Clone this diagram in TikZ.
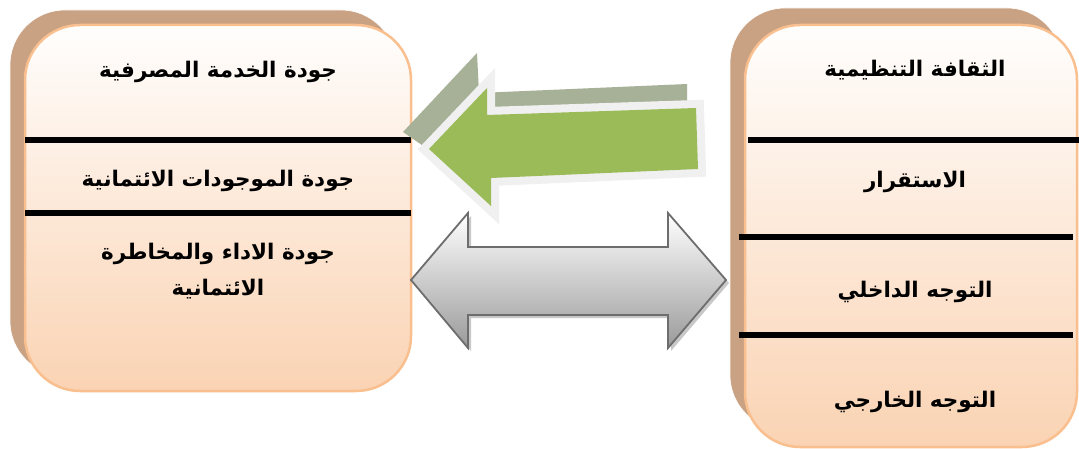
\documentclass[tikz,border=0pt]{standalone}
\usepackage{fontspec}
\newfontfamily\arabicfont[Script=Arabic]{DejaVu Sans}
\TeXXeTstate=1
\definecolor{boxtop}{HTML}{FFFEFD}
\definecolor{boxbot}{HTML}{FAD3B3}
\definecolor{boxedge}{HTML}{F9BF8F}
\definecolor{shadowtan}{HTML}{C9A183}
\definecolor{arrowgreen}{HTML}{9BBB59}
\definecolor{greenshadow}{HTML}{A6B197}
\definecolor{glow}{HTML}{F0F0F0}
\definecolor{grayedge}{HTML}{6D6D6D}
\definecolor{graybot}{HTML}{9A9A9A}
\definecolor{grayshadow}{HTML}{C8C8C8}
\begin{document}
\begin{tikzpicture}[x=1pt,y=-1pt,
  shadowbox/.style={fill=shadowtan, draw=white, line width=0.6pt, rounded corners=55pt},
  mainbox/.style={top color=boxtop, bottom color=boxbot, draw=boxedge, line width=2.5pt, rounded corners=55pt},
  sepline/.style={line width=6pt, black},
  lbl/.style={font=\arabicfont\bfseries\fontsize{21.5}{36}\selectfont, align=center, text=black, inner sep=0pt}]
\useasboundingbox (0,0) rectangle (1079,449);
% left box
\path[shadowbox] (10,10) rectangle (396,376);
\path[mainbox] (25,25) rectangle (411,391);
\draw[sepline] (25,140) -- (411,140);
\draw[sepline] (25,213) -- (411,213);
\node[lbl] (l1) at (218,72) {\beginR جودة الخدمة المصرفية\endR};
\node[lbl] (l2) at (218,181) {\beginR جودة الموجودات الائتمانية\endR};
\node[lbl] (l3) at (218,271) {\beginR جودة الاداء والمخاطرة\endR\\\beginR الائتمانية\endR};
% right box
\path[shadowbox] (730,8) rectangle (1062,430);
\path[mainbox] (745,25) rectangle (1077,447);
\draw[sepline] (748,140) -- (1079,140);
\draw[sepline] (739,237) -- (1073,237);
\draw[sepline] (739,335) -- (1073,335);
\node[lbl] (r1) at (915,70) {\beginR الثقافة التنظيمية\endR};
\node[lbl] (r2) at (915,182) {\beginR الاستقرار\endR};
\node[lbl] (r3) at (915,292) {\beginR التوجه الداخلي\endR};
\node[lbl] (r4) at (915,402) {\beginR التوجه الخارجي\endR};
% green arrow shadow
\fill[greenshadow] (403,132) -- (477,53) -- (479,93) -- (687,84) -- (688,150) -- (485,160) -- (487,190) -- cycle;
% green arrow glow + body
\draw[glow, line width=16pt, line join=miter, fill=glow] (429,149) -- (487,88) -- (487,115) -- (696,108) -- (698,169) -- (491,178) -- (491,206) -- cycle;
\fill[arrowgreen] (429,149) -- (487,88) -- (487,115) -- (696,108) -- (698,169) -- (491,178) -- (491,206) -- cycle;
% gray double arrow
\fill[grayshadow] (414,283) -- (471,216) -- (471,250) -- (671,250) -- (671,216) -- (729,283) -- (671,351) -- (671,318) -- (471,318) -- (471,351) -- cycle;
\shade[top color=white, bottom color=graybot, draw=grayedge, line width=1.8pt, line join=miter] (411,280) -- (468,213) -- (468,247) -- (668,247) -- (668,213) -- (726,280) -- (668,348) -- (668,315) -- (468,315) -- (468,348) -- cycle;
\end{tikzpicture}
\end{document}
